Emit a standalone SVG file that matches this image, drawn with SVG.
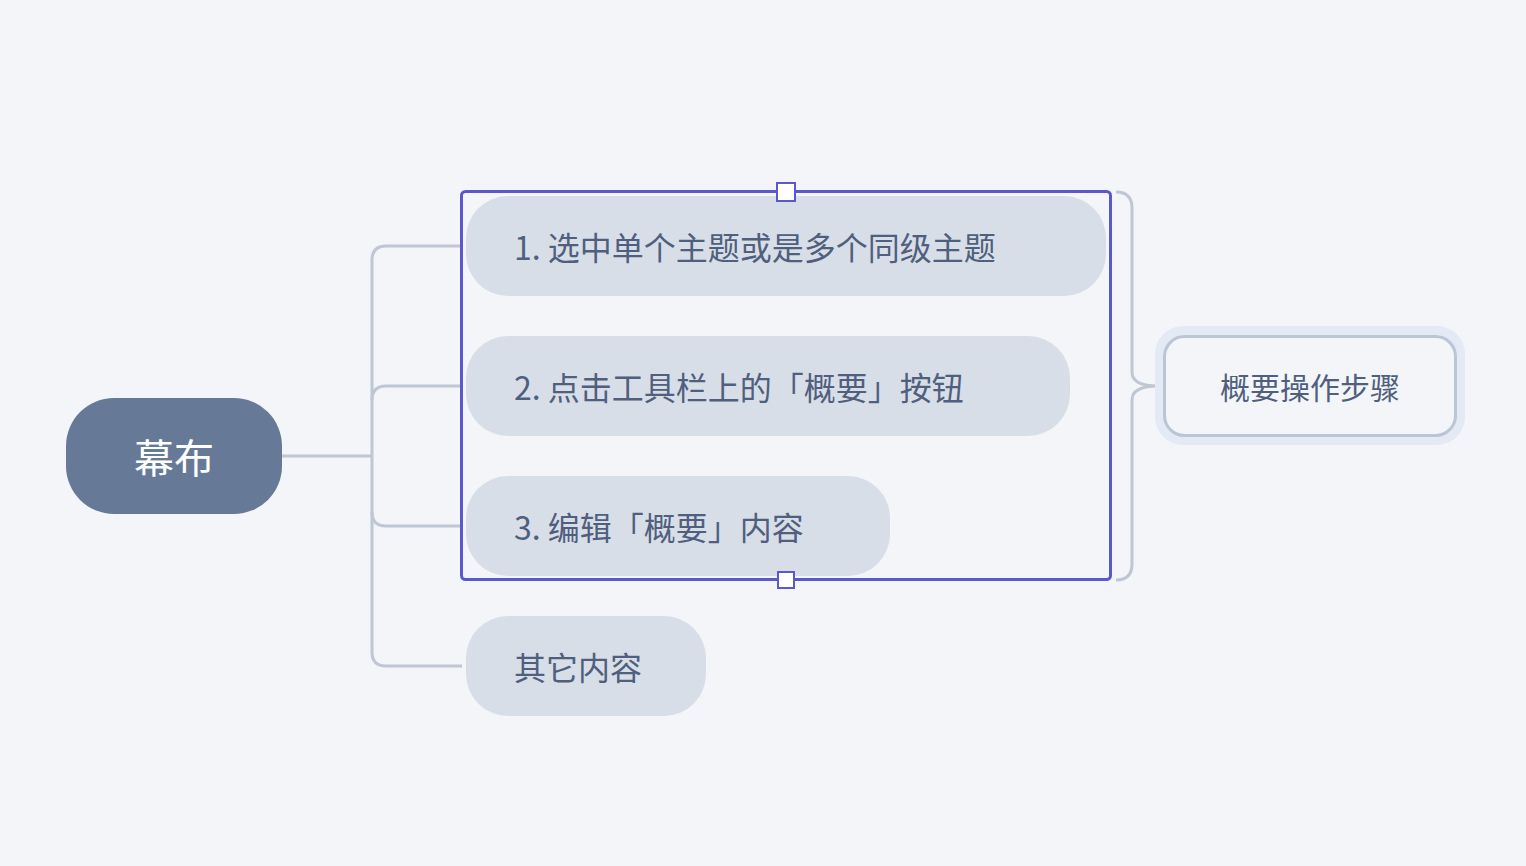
<svg xmlns="http://www.w3.org/2000/svg" width="1526" height="866" viewBox="0 0 1526 866">
<style>
text{font-family:"Noto Sans CJK SC","Noto Sans",sans-serif;fill:#505f7e;font-size:32px;dominant-baseline:central}
.t{fill:#d8dee7}
.c{fill:none;stroke:#bfc7d4;stroke-width:3}
</style>
<rect width="1526" height="866" fill="#f3f5f9"/>
<g id="connectors" class="c">
<path d="M282 456H372"/>
<path d="M462 246H386Q372 246 372 260V652Q372 666 386 666H462"/>
<path d="M462 386H386Q372 386 372 400"/>
<path d="M462 526H386Q372 526 372 512"/>
<path d="M1116 192Q1132 192 1132 208V372Q1132 386 1158 386Q1132 386 1132 400V564Q1132 580 1116 580"/>
</g>
<g id="root"><rect x="66" y="398" width="216" height="116" rx="48" fill="#667a98"/><text x="174" y="456" text-anchor="middle" style="fill:#fff;font-size:40px">幕布</text></g>
<g id="n1"><rect class="t" x="466" y="196" width="640" height="100" rx="42"/><text x="514" y="246">1. 选中单个主题或是多个同级主题</text></g>
<g id="n2"><rect class="t" x="466" y="336" width="604" height="100" rx="42"/><text x="514" y="386">2. 点击工具栏上的「概要」按钮</text></g>
<g id="n3"><rect class="t" x="466" y="476" width="424" height="100" rx="42"/><text x="514" y="526">3. 编辑「概要」内容</text></g>
<g id="n4"><rect class="t" x="466" y="616" width="240" height="100" rx="42"/><text x="514" y="666">其它内容</text></g>
<g id="selection">
<rect x="461.5" y="191.5" width="649" height="388" rx="4" fill="none" stroke="#5b57cc" stroke-width="3"/>
<rect x="777" y="183" width="18" height="18" fill="#fff" stroke="#5b57cc" stroke-width="2"/>
<rect x="778" y="572" width="16" height="16" fill="#fff" stroke="#5b57cc" stroke-width="2"/>
</g>
<g id="summary">
<rect x="1155" y="326" width="310" height="119" rx="28" fill="#e3e9f5"/>
<rect x="1164.5" y="336.5" width="291" height="99" rx="20" fill="#f3f5f9" stroke="#bcc5d3" stroke-width="3"/>
<text x="1310" y="386" text-anchor="middle" style="font-size:30px">概要操作步骤</text>
</g>
</svg>
